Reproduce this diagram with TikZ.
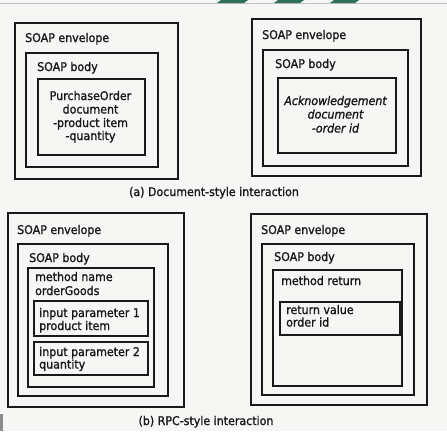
\documentclass[tikz,border=0pt]{standalone}
\usepackage{fontspec}
\setmainfont{DejaVu Sans}[FakeStretch=0.92, FakeBold=1.3]
\begin{document}
\begin{tikzpicture}[x=1pt,y=-1pt,
  env/.style={draw=black!90, line width=2.4pt, inner sep=0pt, anchor=north west},
  box/.style={draw=black!90, line width=1.7pt, inner sep=0pt, anchor=north west},
  txt/.style={inner sep=0pt, text height=8.5pt, text depth=2.5pt, font=\fontsize{12}{14}\selectfont, text=black!90},
  lbl/.style={txt, anchor=west},
  doc/.style={txt},
  captext/.style={txt}]
\definecolor{pagebg}{RGB}{246,246,244}
\definecolor{stripe}{RGB}{45,112,92}
\fill[pagebg] (0,0) rectangle (447,431);
\useasboundingbox (0,0) rectangle (447,431);
% page artefacts at the top
\draw[black!25, line width=0.6pt] (0,3.5) -- (447,3.5);
\fill[stripe] (221,0) -- (248,0) -- (244,3) -- (217,3) -- cycle;
\fill[stripe] (278,0) -- (304,0) -- (300,3) -- (274,3) -- cycle;
\fill[stripe] (334,0) -- (359,0) -- (355,3) -- (330,3) -- cycle;
\fill[black!45] (0,414) rectangle (3,431);

% (a) left: PurchaseOrder
\node[env, minimum width=163pt, minimum height=156pt] (envA) at (14,22) {};
\node[box, minimum width=132pt, minimum height=114pt] (bodyA) at (25,52) {};
\node[box, minimum width=107pt, minimum height=76pt] (docA) at (37,78) {};
\node[lbl] (envAl) at (25,39) {SOAP envelope};
\node[lbl] (bodyAl) at (37,68) {SOAP body};
\node[doc] (docA1) at (90.5,97) {PurchaseOrder};
\node[doc] (docA2) at (90.5,110.5) {document};
\node[doc] (docA3) at (90.5,124) {-product item};
\node[doc] (docA4) at (90.5,137) {-quantity};

% (a) right: Acknowledgement
\node[env, minimum width=169pt, minimum height=157pt] (envB) at (251,18) {};
\node[box, minimum width=145pt, minimum height=116pt] (bodyB) at (262,49) {};
\node[box, minimum width=118pt, minimum height=75pt] (docB) at (277,77) {};
\node[lbl] (envBl) at (262,36) {SOAP envelope};
\node[lbl] (bodyBl) at (275,65) {SOAP body};
\node[doc, font=\fontsize{12}{14}\selectfont\itshape] (docB1) at (335.5,102) {Acknowledgement};
\node[doc, font=\fontsize{12}{14}\selectfont\itshape] (docB2) at (335.5,115.5) {document};
\node[doc, font=\fontsize{12}{14}\selectfont\itshape] (docB3) at (335.5,129.5) {-order id};

\node[captext] (capA) at (214,193) {(a) Document-style interaction};

% (b) left: method call
\node[env, minimum width=176pt, minimum height=194pt] (envC) at (7,212) {};
\node[box, minimum width=150pt, minimum height=152pt] (bodyC) at (17,243) {};
\node[box, minimum width=126pt, minimum height=119pt] (methC) at (27,267) {};
\node[box, minimum width=114pt, minimum height=35pt] (p1C) at (33,300) {};
\node[box, minimum width=114pt, minimum height=33pt] (p2C) at (33,341) {};
\node[lbl] (envCl) at (17,231) {SOAP envelope};
\node[lbl] (bodyCl) at (29,259) {SOAP body};
\node[lbl] (methC1) at (35,278) {method name};
\node[lbl] (methC2) at (35,292) {orderGoods};
\node[lbl] (p1C1) at (39,314) {input parameter 1};
\node[lbl] (p1C2) at (39,327) {product item};
\node[lbl] (p2C1) at (39,353) {input parameter 2};
\node[lbl] (p2C2) at (39,365.5) {quantity};

% (b) right: method return
\node[env, minimum width=176pt, minimum height=191pt] (envD) at (250,213) {};
\node[box, minimum width=152pt, minimum height=151pt] (bodyD) at (261,243) {};
\node[box, minimum width=129pt, minimum height=116pt] (methD) at (272,269) {};
\node[box, minimum width=120pt, minimum height=33pt] (rvD) at (279,301) {};
\node[lbl] (envDl) at (261,231) {SOAP envelope};
\node[lbl] (bodyDl) at (274,258) {SOAP body};
\node[lbl] (methDl) at (281,282) {method return};
\node[lbl] (rvD1) at (286,311) {return value};
\node[lbl] (rvD2) at (286,323.5) {order id};

\node[captext] (capB) at (206,422) {(b) RPC-style interaction};
\end{tikzpicture}
\end{document}
